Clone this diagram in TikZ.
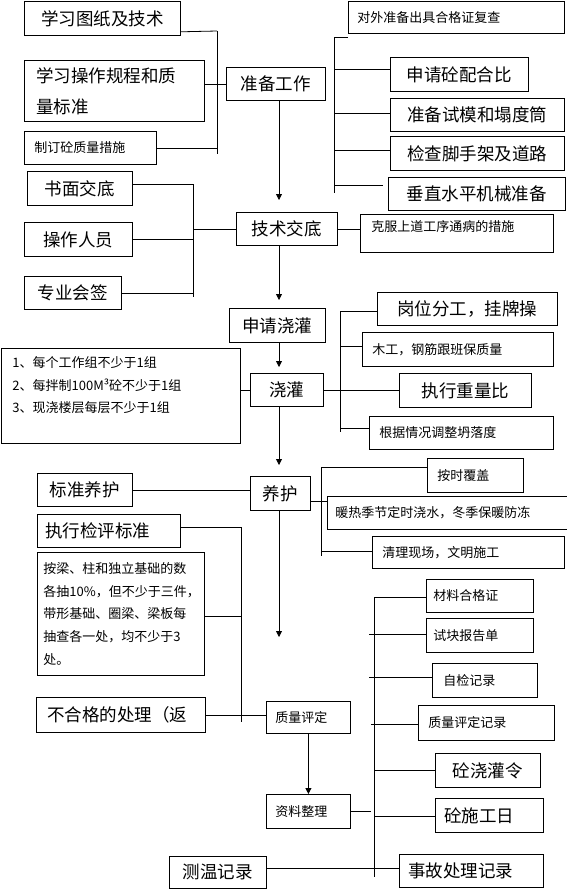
\documentclass[tikz,border=0pt]{standalone}
\usepackage{fontspec}
\newfontfamily\cjk{Noto Sans CJK SC}
\usetikzlibrary{arrows.meta}

\tikzset{
  kotak/.style={draw, anchor=north west, inner sep=0pt},
  besar/.style={font=\cjk\fontsize{17.5}{21}\selectfont},
  kecil/.style={font=\cjk\fontsize{13}{16}\selectfont},
  kiri/.style 2 args={align=left, text width=#1, inner xsep=#2},
  panah/.style={-{Triangle[width=6pt,length=6pt]}},
}

\begin{document}
\begin{tikzpicture}[x=1pt, y=-1pt, line width=0.8pt]
\useasboundingbox (0,0) rectangle (567,889);

% kolom panah utama
\def\xa{279}

% Persiapan (kiri)
\node[kotak, besar, minimum width=156pt, minimum height=34pt] (gambar) at (24,1) {学习图纸及技术};
\node[kotak, font=\cjk\fontsize{17.5}{31}\selectfont, kiri={156pt}{12pt}, minimum width=180pt, minimum height=61pt] (aturan) at (24,60) {学习操作规程和质\\量标准};
\node[kotak, kecil, kiri={112pt}{10pt}, minimum width=132pt, minimum height=33pt] (mutu) at (24,131) {制订砼质量措施};
\node[kotak, besar, minimum width=99pt, minimum height=33pt] (siap) at (226,67) {准备工作};

% Persiapan (kanan)
\node[kotak, kecil, kiri={198pt}{9pt}, minimum width=216pt, minimum height=32pt] (sertifikat) at (348,1) {对外准备出具合格证复查};
\node[kotak, besar, minimum width=138pt, minimum height=34pt] (rasio) at (390,57) {申请砼配合比};
\node[kotak, besar, minimum width=174pt, minimum height=33pt] (cetakan) at (390,98) {准备试模和塌度筒};
\node[kotak, besar, minimum width=174pt, minimum height=34pt] (perancah) at (390,136) {检查脚手架及道路};
\node[kotak, besar, minimum width=177pt, minimum height=33pt] (mesin) at (388,177) {垂直水平机械准备};

% Penjelasan teknis
\node[kotak, besar, minimum width=101pt, minimum height=33pt] (teknis) at (236,212) {技术交底};
\node[kotak, besar, minimum width=105pt, minimum height=34pt] (tertulis) at (27,171) {书面交底};
\node[kotak, besar, minimum width=108pt, minimum height=34pt] (operator) at (24,222) {操作人员};
\node[kotak, besar, minimum width=97pt, minimum height=33pt] (tanda) at (24,276) {专业会签};
\node[kotak, kecil, kiri={171pt}{11pt}, text depth=15pt, minimum width=193pt, minimum height=38pt] (atasi) at (360,214) {克服上道工序通病的措施};

% Pengecoran
\node[kotak, besar, minimum width=96pt, minimum height=34pt] (ajukan) at (229,308) {申请浇灌};
\node[kotak, besar, minimum width=73pt, minimum height=33pt] (cor) at (250,373) {浇灌};
\node[kotak, besar, minimum width=180pt, minimum height=33pt] (tugas) at (377,292) {岗位分工，挂牌操};
\node[kotak, kecil, kiri={171pt}{10pt}, minimum width=191pt, minimum height=34pt] (tukang) at (362,332) {木工，钢筋跟班保质量};
\node[kotak, besar, minimum width=132pt, minimum height=34pt] (takaran) at (399,373) {执行重量比};
\node[kotak, kecil, kiri={164pt}{10pt}, minimum width=184pt, minimum height=33pt] (slump) at (369,416) {根据情况调整坍落度};
\node[kotak, font=\cjk\fontsize{13}{22.5}\selectfont, kiri={217pt}{11pt}, minimum width=239pt, minimum height=95pt] (sampel) at (1,348)
  {1、每个工作组不少于1组\\2、每拌制100M³砼不少于1组\\3、现浇楼层每层不少于1组\\\mbox{}};

% Perawatan
\node[kotak, besar, minimum width=60pt, minimum height=34pt] (rawat) at (250,476) {养护};
\node[kotak, besar, minimum width=95pt, minimum height=33pt] (standar) at (37,473) {标准养护};
\node[kotak, kecil, kiri={76pt}{10pt}, minimum width=96pt, minimum height=34pt] (tutup) at (427,458) {按时覆盖};
\node[kotak, kecil, kiri={229pt}{8pt}, minimum width=245pt, minimum height=33pt] (siram) at (327,496) {暖热季节定时浇水，冬季保暖防冻};
\node[kotak, kecil, kiri={172pt}{10pt}, minimum width=192pt, minimum height=32pt] (bersih) at (372,536) {清理现场，文明施工};

% Evaluasi mutu
\node[kotak, besar, kiri={127pt}{8pt}, minimum width=143pt, minimum height=33pt] (kriteria) at (37,514) {执行检评标准};
\node[kotak, font=\cjk\fontsize{13}{22.75}\selectfont, kiri={155pt}{6pt}, minimum width=167pt, minimum height=123pt] (sampling) at (37,552)
  {按梁、柱和独立基础的数\\各抽10\%，但不少于三件，\\带形基础、圈梁、梁板每\\抽查各一处，均不少于3\\处。};
\node[kotak, besar, kiri={147pt}{11pt}, minimum width=169pt, minimum height=35pt] (gagal) at (36,697) {不合格的处理（返};
\node[kotak, kecil, kiri={66pt}{9pt}, minimum width=84pt, minimum height=32pt] (nilai) at (266,701) {质量评定};
\node[kotak, kecil, kiri={66pt}{9pt}, minimum width=84pt, minimum height=34pt] (arsip) at (266,794) {资料整理};

% Arsip dokumen
\node[kotak, kecil, kiri={93pt}{7pt}, minimum width=107pt, minimum height=33pt] (material) at (426,579) {材料合格证};
\node[kotak, kecil, kiri={93pt}{7pt}, minimum width=107pt, minimum height=34pt] (uji) at (426,618) {试块报告单};
\node[kotak, kecil, kiri={83pt}{11pt}, minimum width=105pt, minimum height=34pt] (periksa) at (432,663) {自检记录};
\node[kotak, kecil, kiri={116pt}{10pt}, minimum width=136pt, minimum height=35pt] (catatnilai) at (418,705) {质量评定记录};
\node[kotak, besar, minimum width=105pt, minimum height=34pt] (perintah) at (435,753) {砼浇灌令};
\node[kotak, besar, kiri={90pt}{9pt}, minimum width=108pt, minimum height=34pt] (harian) at (435,798) {砼施工日};
\node[kotak, besar, kiri={126pt}{9pt}, minimum width=144pt, minimum height=33pt] (insiden) at (399,854) {事故处理记录};
\node[kotak, besar, minimum width=97pt, minimum height=32pt] (suhu) at (169,856) {测温记录};

% Panah utama
\coordinate (ujung) at (\xa,637);
\draw[panah] (\xa,0 |- siap.south) -- ([yshift=12pt]teknis.north -| \xa,0);
\draw[panah] (\xa,0 |- teknis.south) -- ([yshift=8pt]ajukan.north -| \xa,0);
\draw[panah] (\xa,0 |- ajukan.south) -- ([yshift=6pt]cor.north -| \xa,0);
\draw[panah] (\xa,0 |- cor.south) -- ([yshift=11pt]rawat.north -| \xa,0);
\draw[panah] (\xa,0 |- rawat.south) -- (ujung);
\draw[panah] (nilai.south) -- (arsip.north);

% Garis persiapan kiri
\coordinate (busA1) at (217,31);
\coordinate (busA2) at (217,154);
\draw (busA1) -- (busA2);
\draw ([yshift=4pt]gambar.south east) -- (busA1);
\draw (aturan.east |- siap.west) -- (siap.west);
\draw (mutu.east) -- (mutu.east -| busA1);

% Garis persiapan kanan
\coordinate (busB1) at (334,37);
\coordinate (busB2) at (334,193);
\draw (busB1) -- (busB2);
\draw (busB1) -- (busB1 -| sertifikat.south west);
\foreach \y/\n in {69/rasio, 113/cetakan, 150/perancah} {
    \draw (334,\y) -- (\n.west |- 0,\y);
  }
\draw (334,185) -- ([xshift=-5pt]mesin.west |- 0,185);

% Garis penjelasan teknis
\coordinate (busC1) at (193,184);
\coordinate (busC2) at (193,297);
\draw (busC1) -- (busC2);
\draw (tertulis.east |- busC1) -- (busC1);
\draw (operator.east) -- (operator.east -| busC1);
\draw (tanda.east) -- (tanda.east -| busC1);
\draw (busC1 |- teknis.west) -- (teknis.west);
\draw (teknis.east) -- (atasi.west |- teknis.east);

% Garis pengecoran
\coordinate (busD1) at (340,311);
\coordinate (busD2) at (340,432);
\draw (busD1) -- (busD2);
\draw (busD1) -- (busD1 -| tugas.west);
\draw (340,346) -- (tukang.west |- 0,346);
\draw (340,428) -- (slump.west |- 0,428);
\draw (cor.east) -- (takaran.west |- cor.east);
\draw (sampel.east |- cor.west) -- (cor.west);

% Garis perawatan
\coordinate (busE1) at (321,467);
\coordinate (busE2) at (321,556);
\draw (busE1) -- (busE2);
\draw (standar.east) -- (standar.east -| rawat.west);
\draw (busE1) -- (busE1 -| tutup.west);
\draw ([yshift=-8pt]rawat.east) -- ([yshift=-8pt]rawat.east -| siram.west);
\draw (321,551) -- (bersih.west |- 0,551);

% Garis evaluasi
\coordinate (busF1) at (241,527);
\coordinate (busF2) at (241,722);
\draw (busF1) -- (busF2);
\draw (kriteria.east |- busF1) -- (busF1);
\draw (sampling.east |- 0,616) -- (241,616);
\draw (gagal.east) -- (nilai.west |- gagal.east);

% Garis arsip
\coordinate (busG1) at (374,597);
\coordinate (busG2) at (374,877);
\draw (busG1) -- (busG2);
\draw (arsip.east) -- ([xshift=-3pt]arsip.east -| busG1);
\draw (busG1) -- (busG1 -| material.west);
\foreach \y/\n in {634/uji, 677/periksa} {
    \draw (369,\y) -- (\n.west |- 0,\y);
  }
\draw (371,724) -- (catatnilai.west |- 0,724);
\draw (374,770) -- (perintah.west |- 0,770);
\draw (374,816) -- (harian.west |- 0,816);
\draw ([yshift=4pt]suhu.east) -- ([yshift=4pt]insiden.west |- suhu.east);

\end{tikzpicture}
\end{document}
